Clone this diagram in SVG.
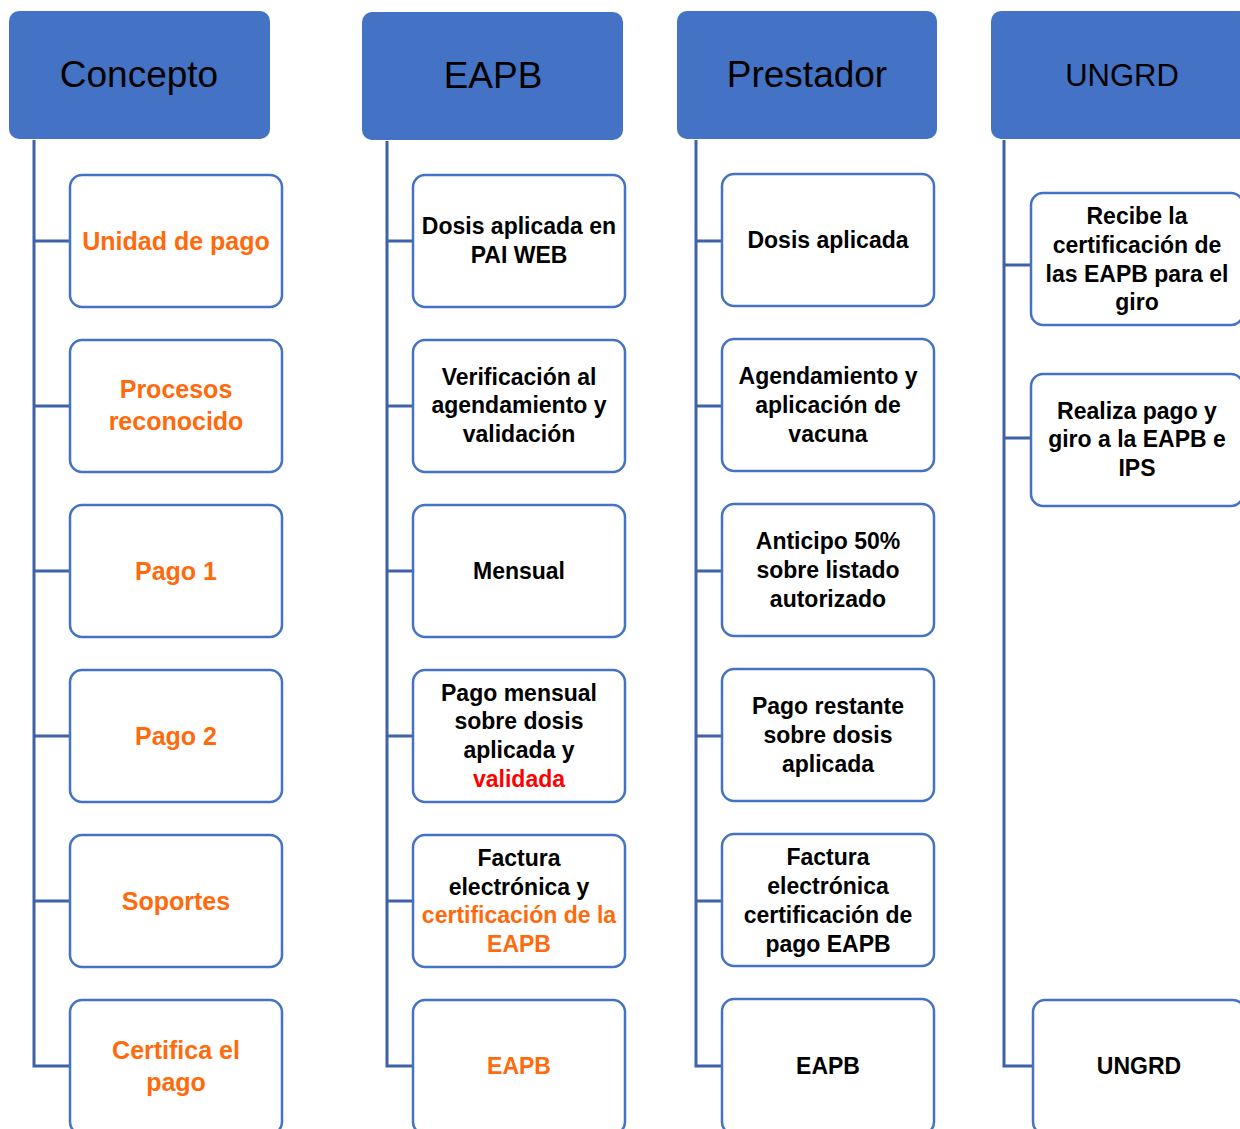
<svg xmlns="http://www.w3.org/2000/svg" width="1240" height="1129" viewBox="0 0 1240 1129">
<style>
.hdr{fill:#4472C4;}
.ht{font-family:"Liberation Sans",Arial,sans-serif;font-size:37px;fill:#000;text-anchor:middle;}
.box{fill:#fff;stroke:#4472C4;stroke-width:2.5;}
.t{font-family:"Liberation Sans",Arial,sans-serif;font-weight:bold;font-size:23px;fill:#000;text-anchor:middle;}
.o{fill:#FF6A0D;}
.r{fill:#FF0000;}
.c24{font-size:25px;}
.con{fill:none;stroke:#3D62A8;stroke-width:3;}
</style>
<g id="connectors">
<path class="con" d="M34 140 V1066 H70 M34 241 H70 M34 406 H70 M34 571 H70 M34 736 H70 M34 901 H70"/>
<path class="con" d="M387 141 V1066 H413 M387 241 H413 M387 406 H413 M387 571 H413 M387 736 H413 M387 901 H413"/>
<path class="con" d="M696 140 V1066 H722 M696 241 H722 M696 406 H722 M696 571 H722 M696 736 H722 M696 901 H722"/>
<path class="con" d="M1004 140 V1066 H1033 M1004 265 H1031 M1004 438 H1031"/>
</g>
<g id="h-concepto"><rect class="hdr" x="9" y="11" width="261" height="128" rx="10"/><text class="ht" x="139" y="87">Concepto</text></g>
<g id="h-eapb"><rect class="hdr" x="362" y="12" width="261" height="128" rx="10"/><text class="ht" x="493" y="88">EAPB</text></g>
<g id="h-prestador"><rect class="hdr" x="677" y="11" width="260" height="128" rx="10"/><text class="ht" x="807" y="87">Prestador</text></g>
<g id="h-ungrd"><rect class="hdr" x="991" y="11" width="260" height="128" rx="10"/><text class="ht" x="1122" y="86" style="font-size:31px">UNGRD</text></g>

<g id="c1"><rect class="box" x="70" y="175" width="212" height="132" rx="12"/><text class="t o c24" x="176" y="250">Unidad de pago</text></g>
<g id="c2"><rect class="box" x="70" y="340" width="212" height="132" rx="12"/><text class="t o c24" x="176" y="398">Procesos</text><text class="t o c24" x="176" y="430">reconocido</text></g>
<g id="c3"><rect class="box" x="70" y="505" width="212" height="132" rx="12"/><text class="t o c24" x="176" y="580">Pago 1</text></g>
<g id="c4"><rect class="box" x="70" y="670" width="212" height="132" rx="12"/><text class="t o c24" x="176" y="745">Pago 2</text></g>
<g id="c5"><rect class="box" x="70" y="835" width="212" height="132" rx="12"/><text class="t o c24" x="176" y="910">Soportes</text></g>
<g id="c6"><rect class="box" x="70" y="1000" width="212" height="134" rx="12"/><text class="t o c24" x="176" y="1059">Certifica el</text><text class="t o c24" x="176" y="1091">pago</text></g>

<g id="e1"><rect class="box" x="413" y="175" width="212" height="132" rx="12"/><text class="t" x="519" y="234">Dosis aplicada en</text><text class="t" x="519" y="263">PAI WEB</text></g>
<g id="e2"><rect class="box" x="413" y="340" width="212" height="132" rx="12"/><text class="t" x="519" y="385">Verificación al</text><text class="t" x="519" y="413">agendamiento y</text><text class="t" x="519" y="442">validación</text></g>
<g id="e3"><rect class="box" x="413" y="505" width="212" height="132" rx="12"/><text class="t" x="519" y="579">Mensual</text></g>
<g id="e4"><rect class="box" x="413" y="670" width="212" height="132" rx="12"/><text class="t" x="519" y="701">Pago mensual</text><text class="t" x="519" y="729">sobre dosis</text><text class="t" x="519" y="758">aplicada y</text><text class="t r" x="519" y="787">validada</text></g>
<g id="e5"><rect class="box" x="413" y="835" width="212" height="132" rx="12"/><text class="t" x="519" y="866">Factura</text><text class="t" x="519" y="895">electrónica y</text><text class="t o" x="519" y="923">certificación de la</text><text class="t o" x="519" y="952">EAPB</text></g>
<g id="e6"><rect class="box" x="413" y="1000" width="212" height="134" rx="12"/><text class="t o" x="519" y="1074">EAPB</text></g>

<g id="p1"><rect class="box" x="722" y="174" width="212" height="132" rx="12"/><text class="t" x="828" y="248">Dosis aplicada</text></g>
<g id="p2"><rect class="box" x="722" y="339" width="212" height="132" rx="12"/><text class="t" x="828" y="384">Agendamiento y</text><text class="t" x="828" y="413">aplicación de</text><text class="t" x="828" y="442">vacuna</text></g>
<g id="p3"><rect class="box" x="722" y="504" width="212" height="132" rx="12"/><text class="t" x="828" y="549">Anticipo 50%</text><text class="t" x="828" y="578">sobre listado</text><text class="t" x="828" y="607">autorizado</text></g>
<g id="p4"><rect class="box" x="722" y="669" width="212" height="132" rx="12"/><text class="t" x="828" y="714">Pago restante</text><text class="t" x="828" y="743">sobre dosis</text><text class="t" x="828" y="772">aplicada</text></g>
<g id="p5"><rect class="box" x="722" y="834" width="212" height="132" rx="12"/><text class="t" x="828" y="865">Factura</text><text class="t" x="828" y="894">electrónica</text><text class="t" x="828" y="923">certificación de</text><text class="t" x="828" y="952">pago EAPB</text></g>
<g id="p6"><rect class="box" x="722" y="999" width="212" height="135" rx="12"/><text class="t" x="828" y="1074">EAPB</text></g>

<g id="u1"><rect class="box" x="1031" y="193" width="212" height="132" rx="12"/><text class="t" x="1137" y="224">Recibe la</text><text class="t" x="1137" y="253">certificación de</text><text class="t" x="1137" y="282">las EAPB para el</text><text class="t" x="1137" y="310">giro</text></g>
<g id="u2"><rect class="box" x="1031" y="374" width="212" height="132" rx="12"/><text class="t" x="1137" y="419">Realiza pago y</text><text class="t" x="1137" y="447">giro a la EAPB e</text><text class="t" x="1137" y="476">IPS</text></g>
<g id="u3"><rect class="box" x="1033" y="1000" width="212" height="134" rx="12"/><text class="t" x="1139" y="1074">UNGRD</text></g>
</svg>
